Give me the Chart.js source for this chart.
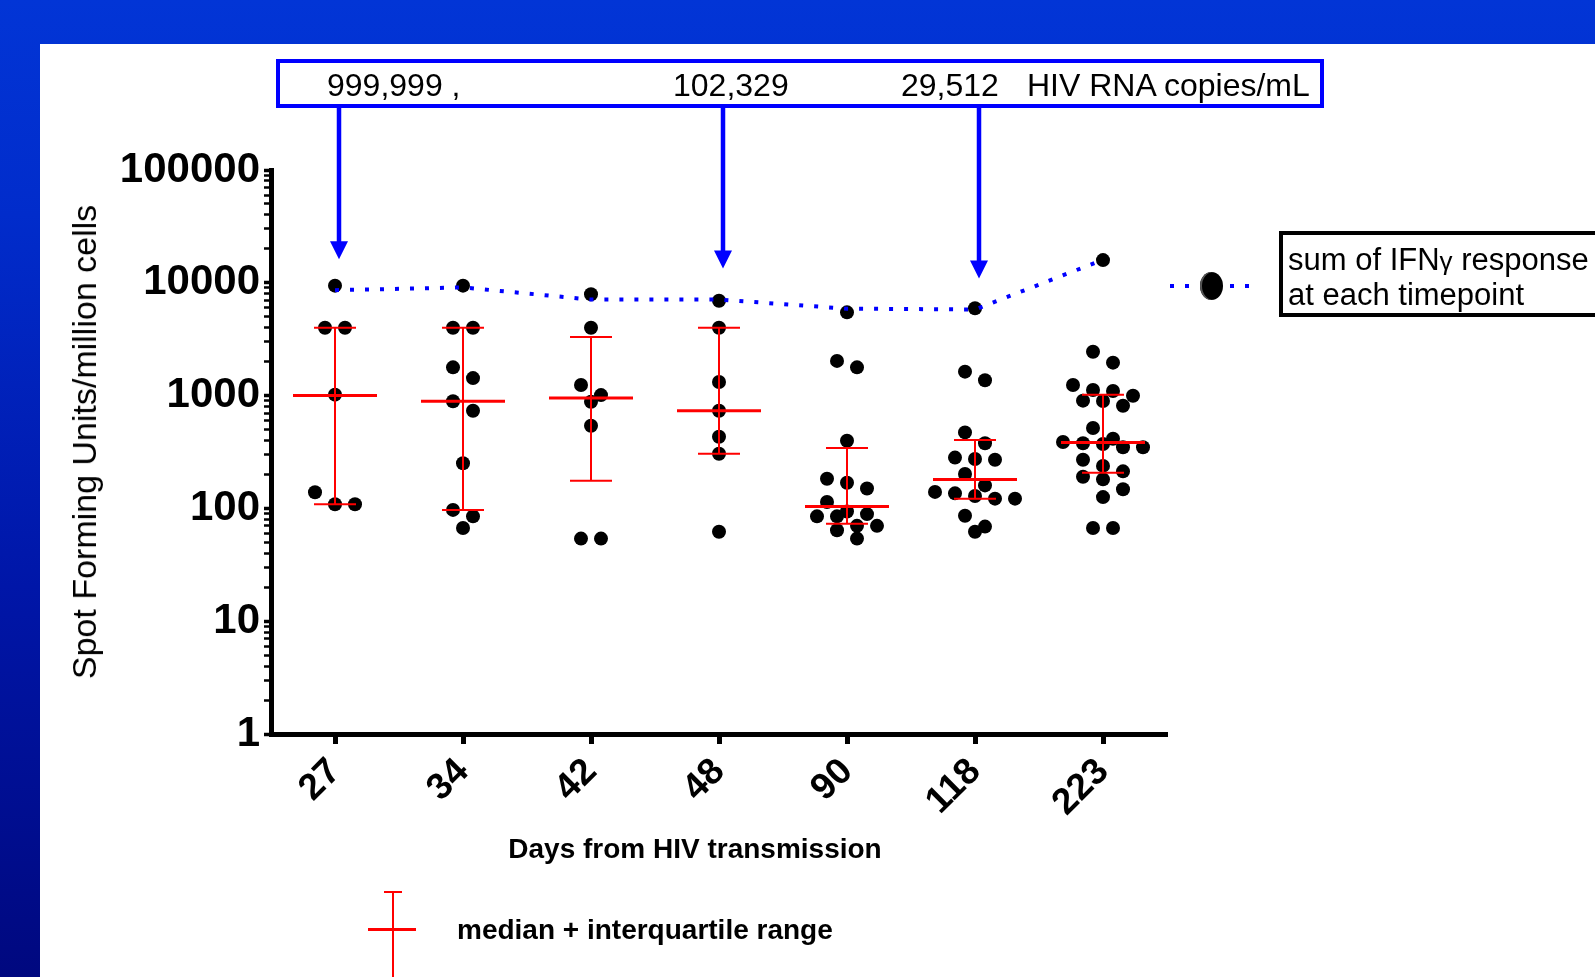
<!DOCTYPE html>
<html>
<head>
<meta charset="utf-8">
<script src="https://cdn.jsdelivr.net/npm/chart.js@4.4.1/dist/chart.umd.min.js"></script>
<style>
html, body { margin: 0; padding: 0; }
body {
    width: 1595px; height: 977px; overflow: hidden; position: relative;
    font-family: 'Liberation Sans', Arial, sans-serif; color: #000;
    background: linear-gradient(180deg, #0235d6 0%, #012ccb 22%, #0016a8 60%, #00087f 100%);
}
#panel { position: absolute; left: 40px; top: 44px; right: 0; bottom: 0; background: #fff; }
#chart { position: absolute; left: 0; top: 0; z-index: 1; }
.ov { position: absolute; z-index: 2; white-space: nowrap; }
.ctr { transform: translate(-50%, -50%); }
#vlbox { left: 276px; top: 59px; width: 1040px; height: 41px; border: 4px solid #0000ff; }
.vl { top: 67px; font-size: 32px; line-height: 36px; }
#sumbox { left: 1279px; top: 231px; width: 400px; height: 78px; border: 4px solid #000; }
.sumtxt { left: 1288px; font-size: 31px; line-height: 35px; }
#sumline { left: 1170px; top: 284px; width: 80px; height: 4px;
    background: repeating-linear-gradient(90deg, #0000ff 0 4px, transparent 4px 15px); }
#sumdot { left: 1200px; top: 272px; width: 23px; height: 28px; border-radius: 50%; background: #000;
    box-shadow: inset 2px 0 0 #555; }
.red { background: #ff0000; }
#medtxt { left: 457px; top: 913px; font-size: 28px; line-height: 33px; font-weight: bold; }
#xtitle { left: 695px; top: 849px; font-size: 28px; line-height: 34px; font-weight: bold; }
#ytitle { left: 84px; top: 442px; font-size: 34px; line-height: 40px; transform: translate(-50%, -50%) rotate(-90deg); }
</style>
</head>
<body>
<div id="panel"></div>
<canvas id="chart" width="1595" height="977"></canvas>

<div class="ov" id="vlbox"></div>
<div class="ov vl" style="left:327px">999,999 ,</div>
<div class="ov vl" style="left:673px">102,329</div>
<div class="ov vl" style="left:901px">29,512</div>
<div class="ov vl" style="left:1027px">HIV RNA copies/mL</div>

<div class="ov" id="ytitle">Spot Forming Units/million cells</div>
<div class="ov ctr" id="xtitle">Days from HIV transmission</div>

<div class="ov" id="sumbox"></div>
<div class="ov sumtxt" style="top:242px">sum of IFN<span style="font-size:26px">γ</span> response</div>
<div class="ov sumtxt" style="top:277px">at each timepoint</div>
<div class="ov" id="sumline"></div>
<div class="ov" id="sumdot"></div>

<div class="ov red" style="left:392px;top:892px;width:2px;height:90px"></div>
<div class="ov red" style="left:384px;top:891px;width:18px;height:2px"></div>
<div class="ov red" style="left:368px;top:928px;width:48px;height:3px"></div>
<div class="ov" id="medtxt">median + interquartile range</div>

<script>
const days = ['27', '34', '42', '48', '90', '118', '223'];

// SFU per million cells, one array per timepoint (top value = summed response)
const sfu27 = [9430, 4000, 4000, 1020, 139, 109, 109];
const sfu34 = [9430, 4000, 4000, 1780, 1430, 890, 735, 251, 97, 85, 67];
const sfu42 = [7910, 4000, 1240, 1010, 883, 541, 54, 54];
const sfu48 = [6940, 4000, 1320, 735, 432, 305, 62];
const sfu90 = [5470, 2030, 1780, 398, 183, 169, 150, 114, 94, 89, 85, 85, 70, 70, 64, 54];
const sfu118 = [5940, 1630, 1370, 472, 378, 282, 274, 270, 202, 160, 140, 136, 129, 122, 122, 86, 69, 62];
const sfu223 = [15900, 2450, 1960, 1240, 1120, 1100, 998, 902, 896, 814, 516, 415, 388, 378, 372, 348, 348, 270, 238, 213, 191, 181, 148, 126, 67, 67];

const medians = [1000, 890, 950, 735, 104, 180, 383];
const q1 = [109, 97, 176, 305, 73, 122, 207];
const q3 = [4000, 4000, 3310, 4000, 343, 404, 1019];

const sumLine = [8600, 9100, 7100, 7100, 5900, 5800, 16000];

const yTicks = [1, 10, 100, 1000, 10000, 100000];

const viralLoadDay = [0, 3, 5];   // arrows from the HIV RNA box

const groups = [sfu27, sfu34, sfu42, sfu48, sfu90, sfu118, sfu223];

Chart.defaults.font.family = "'Liberation Sans', Arial, sans-serif";
Chart.defaults.color = '#000';

const errorBars = {
    id: 'errorBars',
    afterDatasetsDraw(c) {
        const { ctx, scales: { x, y } } = c;
        ctx.save();
        ctx.strokeStyle = '#ff0000';
        medians.forEach((m, i) => {
            const px = x.getPixelForValue(i);
            const lo = y.getPixelForValue(q1[i]), hi = y.getPixelForValue(q3[i]), mid = y.getPixelForValue(m);
            ctx.lineWidth = 2;
            ctx.beginPath();
            ctx.moveTo(px, lo); ctx.lineTo(px, hi);
            ctx.moveTo(px - 21, lo); ctx.lineTo(px + 21, lo);
            ctx.moveTo(px - 21, hi); ctx.lineTo(px + 21, hi);
            ctx.stroke();
            ctx.lineWidth = 3;
            ctx.beginPath(); ctx.moveTo(px - 42, mid); ctx.lineTo(px + 42, mid); ctx.stroke();
        });
        ctx.restore();
    }
};

const arrows = {
    id: 'arrows',
    afterDraw(c) {
        const { ctx, scales: { x, y } } = c;
        ctx.save();
        ctx.fillStyle = ctx.strokeStyle = '#0000ff';
        viralLoadDay.forEach(i => {
            const px = x.getPixelForValue(i) + 4;
            const tip = y.getPixelForValue(sumLine[i]) - 31;
            ctx.lineWidth = 4.5;
            ctx.beginPath(); ctx.moveTo(px, 106); ctx.lineTo(px, tip - 14); ctx.stroke();
            ctx.beginPath(); ctx.moveTo(px - 9, tip - 18); ctx.lineTo(px + 9, tip - 18); ctx.lineTo(px, tip); ctx.closePath(); ctx.fill();
        });
        ctx.restore();
    }
};

const chart = new Chart(document.getElementById('chart'), {
    data: {
        datasets: [
            { type: 'line', data: sumLine.map((v, i) => ({ x: i, y: v })), borderColor: '#0000ff', borderWidth: 4,
              borderDash: [4, 11], pointRadius: 0, fill: false, tension: 0, order: 0 },
            { type: 'scatter', data: groups.flatMap((g, i) => g.map(v => ({ x: i, y: v }))),
              pointRadius: 7, pointHoverRadius: 7, backgroundColor: '#000', borderWidth: 0, order: 1 }
        ]
    },
    options: {
        responsive: false, animation: false, devicePixelRatio: 1, events: [],
        layout: { padding: { left: 40, right: 428, top: 170, bottom: 111 } },
        plugins: { legend: { display: false }, tooltip: { enabled: false } },
        scales: {
            x: {
                type: 'linear', min: -0.5, max: 6.5,
                afterBuildTicks: s => { s.ticks = days.map((d, i) => ({ value: i })); },
                afterFit: s => { s.height = 132; },
                ticks: { autoSkip: false, minRotation: 45, maxRotation: 45, padding: 6,
                         font: { size: 37, weight: 'bold' }, callback: v => days[v] },
                grid: { drawOnChartArea: false, tickLength: 10, tickWidth: 5, tickColor: '#000' },
                border: { display: true, width: 5, color: '#000' },
                title: { display: false }
            },
            y: {
                type: 'logarithmic', min: 1, max: 100000,
                afterBuildTicks: s => {
                    const t = [];
                    for (let e = 0; e < 5; e++) for (let m = 1; m < 10; m++) t.push({ value: m * Math.pow(10, e), major: m === 1 });
                    t.push({ value: 100000, major: true });
                    s.ticks = t;
                },
                afterFit: s => { s.width = 231; },
                ticks: { autoSkip: false, padding: 4, font: { size: 42, weight: 'bold' },
                         callback: v => yTicks.includes(v) ? String(v) : '' },
                grid: { drawOnChartArea: false, tickLength: 7, tickColor: '#000',
                        tickWidth: c => (c.tick && c.tick.major) ? 3.5 : 2.5 },
                border: { display: true, width: 5, color: '#000' },
                title: { display: false }
            }
        }
    },
    plugins: [errorBars, arrows]
});

// spread tied values sideways in rows, like a column scatter
function spread() {
    const xs = chart.scales.x, ys = chart.scales.y;
    const unit = xs.getPixelForValue(1) - xs.getPixelForValue(0);
    const pts = [];
    groups.forEach((g, i) => {
        let row = [];
        const flush = () => {
            row.forEach((v, k) => pts.push({ x: i + (k - (row.length - 1) / 2) * 20 / unit, y: v }));
            row = [];
        };
        g.slice().sort((a, b) => b - a).forEach(v => {
            if (row.length && ys.getPixelForValue(v) - ys.getPixelForValue(row[0]) > 13) flush();
            row.push(v);
        });
        flush();
    });
    chart.data.datasets[1].data = pts;
    chart.update('none');
}
spread();
</script>
</body>
</html>
